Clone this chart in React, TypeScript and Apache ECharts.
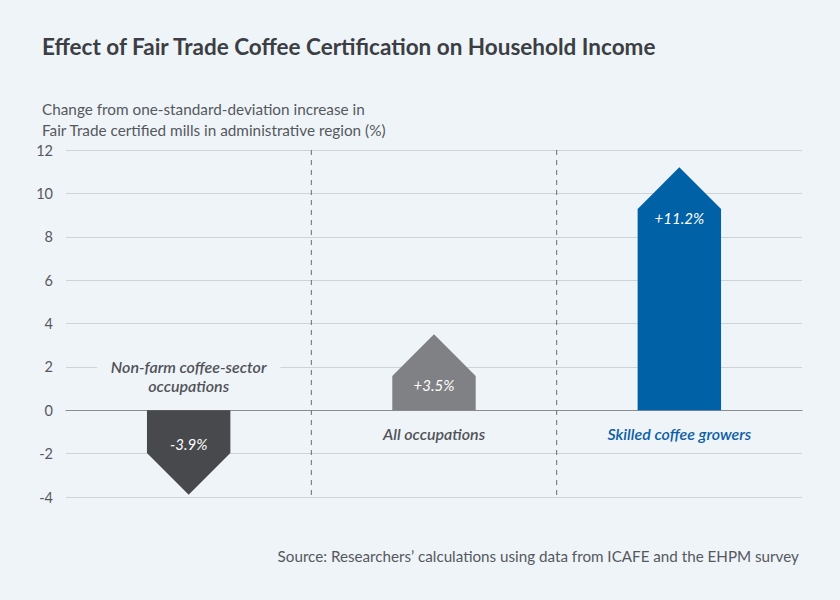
import React, { useEffect, useRef } from "react";
import * as echarts from "echarts";

const titleText = "Effect of Fair Trade Coffee Certification on Household Income";
const yAxisTitle = "Change from one-standard-deviation increase in\nFair Trade certified mills in administrative region (%)";
const sourceText = "Source: Researchers\u2019 calculations using data from ICAFE and the EHPM survey";

const categories = ["Non-farm coffee-sector\noccupations", "All occupations", "Skilled coffee growers"];
const values = [-3.9, 3.5, 11.2];
const barColors = ["#48494c", "#808185", "#0061a6"];
const categoryLabelColors = ["#505257", "#505257", "#0d5fa6"];
const yMin = -4;
const yMax = 12;
const yStep = 2;

const BG = "#eff4f9";
const FONT = "Lato";

export default function App() {
  const ref = useRef<HTMLDivElement>(null);
  useEffect(() => {
    document.body.style.margin = "0";
    const chart = echarts.init(ref.current!, undefined, { renderer: "svg" });
    const data = values.map((v, i) => [i, v]);
    chart.setOption({
      animation: false,
      backgroundColor: BG,
      textStyle: { fontFamily: FONT },
      title: [
        {
          text: titleText,
          left: 37,
          top: 30,
          textStyle: { fontFamily: FONT, fontSize: 22.5, fontWeight: "bold", color: "#3b3e43" },
        },
        {
          text: yAxisTitle,
          left: 37,
          top: 93,
          textStyle: { fontFamily: FONT, fontSize: 15.3, fontWeight: "normal", color: "#55585d", lineHeight: 21 },
        },
        {
          text: sourceText,
          right: 36,
          top: 543,
          textStyle: { fontFamily: FONT, fontSize: 15.2, fontWeight: "normal", color: "#55585d" },
        },
      ],
      grid: { left: 66, right: 38, top: 150, bottom: 103, containLabel: false },
      xAxis: {
        type: "category",
        data: categories,
        boundaryGap: true,
        axisLine: { show: true, onZero: true, lineStyle: { color: "#8a8c90", width: 1.2 } },
        axisTick: { show: false },
        axisLabel: { show: false },
        splitLine: { show: false },
      },
      yAxis: {
        type: "value",
        min: yMin,
        max: yMax,
        interval: yStep,
        axisLine: { show: false },
        axisTick: { show: false },
        axisLabel: { color: "#55585d", fontSize: 14.5, fontFamily: FONT, margin: 13 },
        splitLine: { lineStyle: { color: "#cfd2d7", width: 1.2 } },
      },
      series: [
        {
          type: "custom",
          data,
          encode: { x: 0, y: 1 },
          z: 5,
          renderItem: (params: any, api: any) => {
            const idx = api.value(0);
            const v = api.value(1);
            const base = api.coord([idx, 0]);
            const tip = api.coord([idx, v]);
            const bandW = api.size([1, 0])[0];
            const half = (bandW * 0.34) / 2;
            const x = base[0];
            const dir = v >= 0 ? -1 : 1;
            const shoulderY = tip[1] - dir * half;
            const children: any[] = [];
            if (idx < categories.length - 1) {
              const t = api.coord([idx, yMax]);
              const b = api.coord([idx, yMin]);
              const lx = x + bandW / 2;
              children.push({
                type: "line",
                shape: { x1: lx, y1: t[1], x2: lx, y2: b[1] },
                style: { stroke: "#6b6d72", lineWidth: 1, lineDash: [5, 5] },
                z2: 1,
              });
            }
            children.push({
              type: "polygon",
              shape: {
                points: [
                  [x - half, base[1]],
                  [x - half, shoulderY],
                  [x, tip[1]],
                  [x + half, shoulderY],
                  [x + half, base[1]],
                ],
              },
              style: { fill: barColors[idx] },
              z2: 3,
            });
            children.push({
              type: "text",
              x,
              y: shoulderY - dir * 9,
              style: {
                text: (v > 0 ? "+" : "") + v.toFixed(1) + "%",
                fill: "#ffffff",
                fontFamily: FONT,
                fontStyle: "italic",
                fontSize: 15,
                align: "center",
                verticalAlign: "middle",
              },
              z2: 4,
            });
            const below = v >= 0;
            children.push({
              type: "text",
              x,
              y: below ? base[1] + 23 : base[1] - 15,
              style: {
                text: categories[idx],
                fill: categoryLabelColors[idx],
                fontFamily: FONT,
                fontStyle: "italic",
                fontWeight: 600,
                fontSize: 16,
                lineHeight: 19,
                align: "center",
                verticalAlign: below ? "middle" : "bottom",
                backgroundColor: BG,
                padding: [0, 14],
              },
              z2: 4,
            });
            return { type: "group", children };
          },
        },
      ],
    });
    return () => chart.dispose();
  }, []);
  return (
    <div
      ref={ref}
      style={{ position: "absolute", left: 0, top: 0, width: 840, height: 600, background: BG }}
    />
  );
}
